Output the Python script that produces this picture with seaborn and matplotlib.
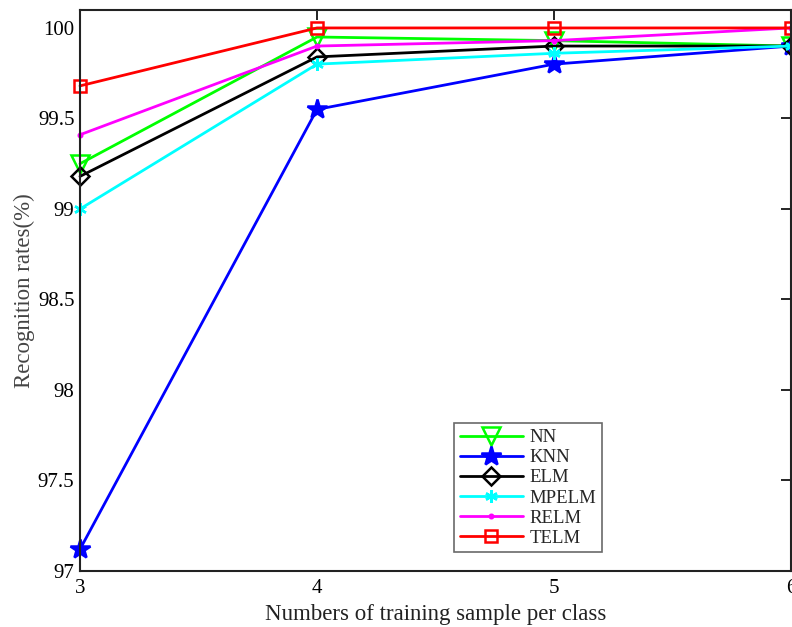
import numpy as np
import seaborn as sns
import matplotlib.pyplot as plt
from matplotlib.ticker import FuncFormatter

samples = [3, 4, 5, 6]
nn = [99.25, 99.95, 99.93, 99.90]
knn = [97.12, 99.55, 99.80, 99.90]
elm = [99.18, 99.84, 99.90, 99.90]
mpelm = [99.00, 99.80, 99.86, 99.90]
relm = [99.41, 99.90, 99.93, 100.00]
telm = [99.68, 100.00, 100.00, 100.00]

sns.set_style("white")
plt.rcParams['font.family'] = ['Liberation Serif', 'DejaVu Serif']

fig = plt.figure(figsize=(7.92, 6.27), dpi=100)
ax = fig.add_axes([0.101, 0.0893, 0.8977, 0.895])

series = [
    ("NN", nn, (0, 1, 0), 'v', 'none', 13),
    ("KNN", knn, (0, 0, 1), '*', (0, 0, 1), 15),
    ("ELM", elm, 'black', 'D', 'none', 9),
    ("MPELM", mpelm, (0, 1, 1), (6, 2, 0), (0, 1, 1), 9),
    ("RELM", relm, (1, 0, 1), '.', (1, 0, 1), 5),
    ("TELM", telm, (1, 0, 0), 's', 'none', 8.5),
]

for name, vals, col, mk, mfc, ms in series:
    sns.lineplot(x=samples, y=vals, ax=ax, color=col, marker=mk, markersize=ms,
                 markerfacecolor=mfc, markeredgecolor=col, markeredgewidth=1.8,
                 linewidth=2, label=name, clip_on=False)

ax.set_xlim(3, 6)
ax.set_ylim(97, 100.1)
ax.set_xticks([3, 4, 5, 6])
ax.set_yticks(np.arange(97, 100.01, 0.5))
ax.yaxis.set_major_formatter(FuncFormatter(lambda v, p: f"{v:g}"))
ax.tick_params(direction='in', top=True, right=True, length=7, width=1.2,
               labelsize=15, colors='black', pad=6)
ax.tick_params(axis='y', pad=4)
for s in ax.spines.values():
    s.set_color('#222222')
    s.set_linewidth(1.5)

ax.set_xlabel("Numbers of training sample per class", fontsize=16.5, labelpad=4,
              color='#222222')
ax.set_ylabel("Recognition rates(%)", fontsize=16.5, color='#444444', labelpad=2)

leg = ax.legend(loc='upper left', bbox_to_anchor=(0.526, 0.263), fontsize=13.5,
                handlelength=3.4, frameon=True, fancybox=False, borderpad=0.3,
                labelspacing=0.16, handletextpad=0.35, borderaxespad=0)
leg.get_frame().set_edgecolor('#444444')
leg.get_frame().set_linewidth(1.2)

fig.savefig("out.png", dpi=100)
